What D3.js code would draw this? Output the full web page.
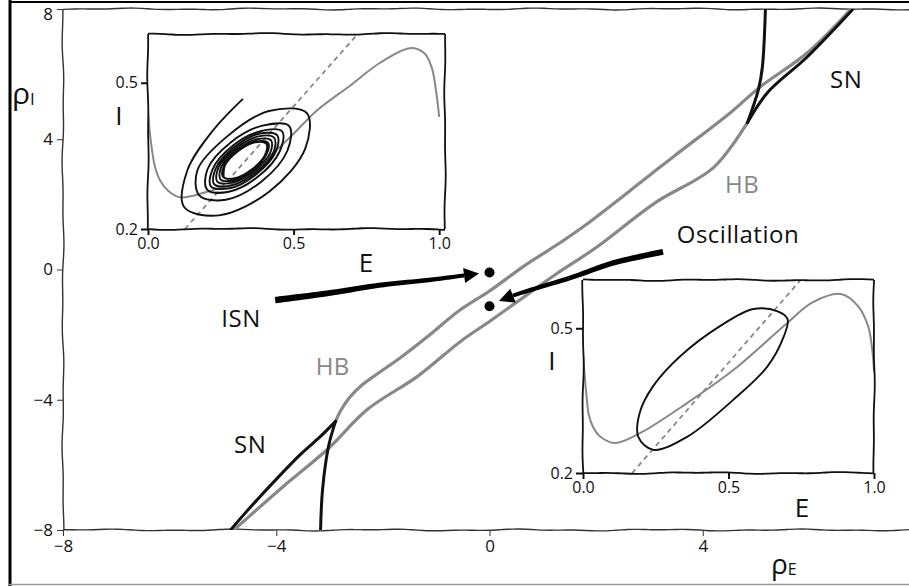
<!DOCTYPE html>
<html>
<head>
<meta charset="utf-8">
<script src="https://cdn.jsdelivr.net/npm/d3@7"></script>
<style>
  body { margin: 0; background: #fff; }
  svg { display: block; }
  text { font-family: 'Open Sans', 'DejaVu Sans', sans-serif; fill: #111; }
</style>
</head>
<body>
<svg id="chart" width="909" height="586"></svg>
<script>
// ---------- bifurcation diagram (rho_E, rho_I) ----------
const yTicks = [-8, -4, 0, 4, 8];
const xTicks = [-8, -4, 0, 4];

// Hopf bifurcation branches
const hbUpper = [[-2.888,-4.663],[-2.785,-4.315],[-2.617,-3.916],[-2.392,-3.547],[-2.054,-3.147],
  [-1.679,-2.718],[-1.172,-2.073],[-0.553,-1.244],[0.0,-0.66],[0.66,0.12],[1.331,0.828],[1.763,1.319],
  [2.831,2.669],[3.450,3.466],[4.519,4.816],[5.082,5.613],[5.963,6.656],[6.769,7.975]];
const hbLower = [[-4.800,-8.006],[-3.863,-6.656],[-3.038,-5.521],[-2.288,-4.294],[-1.350,-3.282],
  [-0.544,-2.209],[0.0,-1.595],[0.581,-0.920],[1.238,-0.153],[1.988,0.66],[3.113,2.055],
  [4.200,3.129],[4.838,4.509]];

// saddle-node branches (each pair meets at a cusp)
const snLowerOuter = [[-4.857,-8.0],[-4.495,-7.32],[-4.064,-6.553],[-3.555,-5.693],[-3.18,-5.14],[-2.888,-4.663]];
const snLowerInner = [[-3.169,-8.0],[-3.131,-6.75],[-3.019,-5.43],[-2.888,-4.663]];
const snUpperOuter = [[6.807,7.975],[5.963,6.534],[5.213,5.43],[4.838,4.509]];
const snUpperInner = [[5.175,7.975],[5.119,6.227],[5.044,5.521],[4.838,4.509]];

// parameter points used for the two phase-plane insets
const markedPoints = [[0, -0.09], [0, -1.13]];

// annotation arrows (tail ... tip)
const isnArrow = [[-4.02,-0.94],[-2.99,-0.72],[-2.05,-0.48],[-1.12,-0.32],[-0.197,-0.12]];
const oscArrow = [[3.255,0.54],[2.317,0.20],[1.566,-0.23],[0.947,-0.54],[0.478,-0.78],[0.178,-0.97]];

const labels = [
  { text: "ISN",         pos: [-4.66,-1.77], color: "#111" },
  { text: "Oscillation", pos: [ 4.66, 0.81], color: "#111" },
  { text: "SN",          pos: [ 6.69, 5.57], color: "#111" },
  { text: "SN",          pos: [-4.49,-5.63], color: "#111" },
  { text: "HB",          pos: [ 4.74, 2.35], color: "#888" },
  { text: "HB",          pos: [-2.94,-3.24], color: "#888" }
];

// ---------- inset phase planes (E, I) ----------
const insetXTicks = [0.0, 0.5, 1.0];
const insetYTicks = [0.2, 0.5];

// inset 1: damped spiral into the fixed point
const inset1ENullcline = [[0,0.443],[0.006,0.40],[0.014,0.361],[0.025,0.325],[0.041,0.30],[0.07,0.278],
  [0.11,0.265],[0.2,0.276],[0.316,0.30],[0.477,0.382],[0.58,0.443],[0.694,0.494],[0.797,0.541],
  [0.90,0.571],[0.95,0.56],[0.975,0.53],[0.99,0.48],[1.0,0.43]];
const inset1INullcline = [[0.127,0.2],[0.72,0.6]];
const inset1Trajectory = [
  [0.326,0.467],[0.223,0.402],[0.135,0.320],[0.124,0.245],[0.244,0.228],[0.417,0.277],[0.540,0.365],[0.545,0.438],[0.415,0.442],
  [0.270,0.389],[0.170,0.321],[0.176,0.269],[0.267,0.260],[0.390,0.2975],[0.479,0.361],[0.485,0.411],[0.393,0.412],
  [0.285,0.378],[0.204,0.322],[0.203,0.281],[0.274,0.276],[0.377,0.307],[0.453,0.360],[0.461,0.400],[0.389,0.401],
  [0.293,0.372],[0.222,0.323],[0.216,0.2875],[0.279,0.2835],[0.371,0.312],[0.439,0.3586],[0.444,0.392],[0.385,0.396],
  [0.297,0.368],[0.2325,0.324],[0.227,0.292],[0.284,0.289],[0.3665,0.315],[0.430,0.356],[0.4335,0.387],[0.380,0.390],
  [0.3016,0.365],[0.242,0.326],[0.238,0.297],[0.2885,0.295],[0.362,0.318],[0.419,0.355],[0.4226,0.382],[0.375,0.384],
  [0.306,0.362],[0.252,0.328],[0.249,0.302],[0.294,0.300],[0.359,0.321],[0.408,0.354],[0.412,0.377],[0.369,0.379],
  [0.308,0.360],[0.2615,0.330],[0.258,0.307],[0.298,0.304],[0.357,0.3225],[0.402,0.352],[0.406,0.375],[0.368,0.378],
  [0.309,0.3595],[0.264,0.330],[0.260,0.307]];

// inset 2: limit cycle
const inset2ENullcline = [[0,0.45],[0.006,0.40],[0.012,0.36],[0.02,0.32],[0.035,0.295],[0.06,0.275],
  [0.11,0.262],[0.197,0.283],[0.36,0.346],[0.52,0.415],[0.70,0.51],[0.79,0.554],[0.886,0.571],
  [0.945,0.546],[0.98,0.504],[0.995,0.45],[1.0,0.41]];
const inset2INullcline = [[0.169,0.2],[0.748,0.6]];
const inset2Cycle = [[0.19,0.275],[0.241,0.248],[0.358,0.275],[0.517,0.352],[0.634,0.421],[0.69,0.483],
  [0.703,0.519],[0.669,0.535],[0.586,0.54],[0.472,0.505],[0.334,0.442],[0.241,0.38],[0.195,0.325]];

// ---------- drawing ----------
const svg = d3.select("#chart");
const x = d3.scaleLinear().domain([-8, 8]).range([63, 916]);
const y = d3.scaleLinear().domain([-8, 8]).range([530, 9]);

// hand-drawn looking straight segment
function wobble(x1, y1, x2, y2, amp, seed) {
  const len = Math.hypot(x2 - x1, y2 - y1);
  const n = Math.max(2, Math.round(len / 6));
  const nx = -(y2 - y1) / len, ny = (x2 - x1) / len;
  const pts = d3.range(n + 1).map(i => {
    const t = i / n, s = t * len;
    const o = amp * (0.6 * Math.sin(s * 0.045 + seed) + 0.4 * Math.sin(s * 0.11 + seed * 1.7));
    return [x1 + (x2 - x1) * t + nx * o, y1 + (y2 - y1) * t + ny * o];
  });
  return d3.line().curve(d3.curveBasis)(pts);
}

// outer frame
svg.append("line").attr("x1", 10).attr("x2", 10).attr("y1", 0).attr("y2", 586)
  .attr("stroke", "#000").attr("stroke-width", 3);
svg.append("line").attr("x1", 9).attr("x2", 909).attr("y1", 2).attr("y2", 2)
  .attr("stroke", "#000").attr("stroke-width", 2);
svg.append("line").attr("x1", 9).attr("x2", 909).attr("y1", 584.5).attr("y2", 584.5)
  .attr("stroke", "#999").attr("stroke-width", 1.5);

// main spines
const spineStyle = s => s.attr("fill", "none").attr("stroke", "#333").attr("stroke-width", 1.4);
svg.append("path").attr("d", wobble(x(-8), y(-8), x(-8), y(8), 1.0, 1)).call(spineStyle);
svg.append("path").attr("d", wobble(x(-8), y(8), x(8), y(8), 1.0, 2)).call(spineStyle);
svg.append("path").attr("d", wobble(x(-8), y(-8), x(8), y(-8), 1.0, 3)).call(spineStyle);

// main axes
const gy = svg.append("g").attr("transform", `translate(${x(-8)},0)`)
  .call(d3.axisLeft(y).tickValues(yTicks).tickFormat(d3.format("d")).tickSize(6).tickPadding(4));
const gx = svg.append("g").attr("transform", `translate(0,${y(-8)})`)
  .call(d3.axisBottom(x).tickValues(xTicks).tickFormat(d3.format("d")).tickSize(6).tickPadding(4));
[gx, gy].forEach(g => {
  g.select(".domain").remove();
  g.selectAll(".tick line").attr("stroke", "#333").attr("stroke-width", 1);
  g.selectAll(".tick text").attr("font-size", 17).attr("fill", "#111")
    .style("font-family", "'Open Sans', sans-serif");
});
gy.selectAll(".tick text").filter(d => d === 8).attr("dy", "0.62em");

// axis titles
const rhoI = svg.append("text").attr("x", 12).attr("y", 104).attr("font-size", 30);
rhoI.append("tspan").text("ρ");
rhoI.append("tspan").attr("font-size", 17).attr("dy", 1).text("I");
const rhoE = svg.append("text").attr("x", 771).attr("y", 574).attr("font-size", 28);
rhoE.append("tspan").text("ρ");
rhoE.append("tspan").attr("font-size", 16).attr("dy", 1).text("E");

// clip for the main plotting area
svg.append("clipPath").attr("id", "mainClip").append("rect")
  .attr("x", x(-8)).attr("y", y(8)).attr("width", x(8) - x(-8)).attr("height", y(-8) - y(8));
const plot = svg.append("g").attr("clip-path", "url(#mainClip)");

const mainLine = d3.line().x(d => x(d[0])).y(d => y(d[1])).curve(d3.curveCatmullRom.alpha(0.5));
[hbUpper, hbLower].forEach(d => plot.append("path").attr("d", mainLine(d))
  .attr("fill", "none").attr("stroke", "#888").attr("stroke-width", 3.2).attr("stroke-linecap", "round"));
[snLowerOuter, snLowerInner, snUpperOuter, snUpperInner].forEach(d => plot.append("path").attr("d", mainLine(d))
  .attr("fill", "none").attr("stroke", "#111").attr("stroke-width", 3).attr("stroke-linecap", "round"));

// tapered annotation arrow
function arrow(data, w0, w1, headLen, headHalf) {
  const pts = data.map(d => [x(d[0]), y(d[1])]);
  const tmp = svg.append("path").attr("d", d3.line().curve(d3.curveCatmullRom)(pts)).attr("fill", "none");
  const node = tmp.node(), L = node.getTotalLength(), shaft = L - headLen;
  const n = 40, left = [], right = [];
  for (let i = 0; i <= n; i++) {
    const s = shaft * i / n;
    const p = node.getPointAtLength(s);
    const a = node.getPointAtLength(Math.max(0, s - 1)), b = node.getPointAtLength(Math.min(L, s + 1));
    const tl = Math.hypot(b.x - a.x, b.y - a.y) || 1;
    const nx = -(b.y - a.y) / tl, ny = (b.x - a.x) / tl;
    const w = (w0 + (w1 - w0) * i / n) / 2;
    left.push([p.x + nx * w, p.y + ny * w]);
    right.push([p.x - nx * w, p.y - ny * w]);
  }
  const base = node.getPointAtLength(shaft), tip = node.getPointAtLength(L);
  const dl = Math.hypot(tip.x - base.x, tip.y - base.y);
  const hx = -(tip.y - base.y) / dl, hy = (tip.x - base.x) / dl;
  tmp.remove();
  svg.append("path").attr("d", d3.line()(left.concat(right.reverse())) + "Z").attr("fill", "#000");
  svg.append("path").attr("d", d3.line()([[base.x + hx * headHalf, base.y + hy * headHalf], [tip.x, tip.y],
      [base.x - hx * headHalf, base.y - hy * headHalf]]) + "Z").attr("fill", "#000");
}
arrow(isnArrow, 6.5, 4, 15, 7.5);
arrow(oscArrow, 6, 4, 15, 7.5);

svg.selectAll("circle.pt").data(markedPoints).join("circle").attr("class", "pt")
  .attr("cx", d => x(d[0])).attr("cy", d => y(d[1])).attr("r", 5).attr("fill", "#000");

svg.selectAll("text.lbl").data(labels).join("text").attr("class", "lbl")
  .attr("x", d => x(d.pos[0])).attr("y", d => y(d.pos[1])).attr("text-anchor", "middle")
  .attr("font-size", 24).attr("letter-spacing", 0.5).style("fill", d => d.color).text(d => d.text);

// ---------- insets ----------
function inset(cfg) {
  const ix = d3.scaleLinear().domain(cfg.xDomain).range(cfg.xRange);
  const iy = d3.scaleLinear().domain([0.2, 0.6]).range(cfg.yRange);
  const [x0, x1] = cfg.xRange, [yb, yt] = cfg.yRange;
  const g = svg.append("g");
  g.append("rect").attr("x", x0).attr("y", yt).attr("width", x1 - x0).attr("height", yb - yt).attr("fill", "#fff");
  const clipId = cfg.id + "Clip";
  g.append("clipPath").attr("id", clipId).append("rect")
    .attr("x", x0).attr("y", yt).attr("width", x1 - x0).attr("height", yb - yt);
  const inner = g.append("g").attr("clip-path", `url(#${clipId})`);
  const line = d3.line().x(d => ix(d[0])).y(d => iy(d[1]));
  inner.append("path").attr("d", line.curve(d3.curveLinear)(cfg.iNull)).attr("fill", "none")
    .attr("stroke", "#888").attr("stroke-width", 1.8).attr("stroke-dasharray", "5,4");
  inner.append("path").attr("d", line.curve(d3.curveCatmullRom)(cfg.eNull)).attr("fill", "none")
    .attr("stroke", "#888").attr("stroke-width", 2);
  inner.append("path").attr("d", line.curve(cfg.closed ? d3.curveCatmullRomClosed : d3.curveCatmullRom)(cfg.traj))
    .attr("fill", "none").attr("stroke", "#111").attr("stroke-width", 1.9);
  // box
  const box = s => s.attr("fill", "none").attr("stroke", "#111").attr("stroke-width", 1.8);
  g.append("path").attr("d", wobble(x0, yb, x0, yt, 0.8, cfg.seed)).call(box);
  g.append("path").attr("d", wobble(x1, yb, x1, yt, 0.8, cfg.seed + 1)).call(box);
  g.append("path").attr("d", wobble(x0, yt, x1, yt, 1.0, cfg.seed + 2)).call(box);
  g.append("path").attr("d", wobble(x0, yb, x1, yb, 1.0, cfg.seed + 3)).call(box);
  const ax = g.append("g").attr("transform", `translate(0,${yb})`)
    .call(d3.axisBottom(ix).tickValues(insetXTicks).tickFormat(d3.format(".1f")).tickSize(6).tickPadding(3));
  const ay = g.append("g").attr("transform", `translate(${x0},0)`)
    .call(d3.axisLeft(iy).tickValues(insetYTicks).tickFormat(d3.format(".1f")).tickSize(7).tickPadding(3));
  [ax, ay].forEach(a => {
    a.select(".domain").remove();
    a.selectAll(".tick line").attr("stroke", "#111").attr("stroke-width", 2);
    a.selectAll(".tick text").attr("font-size", 16).attr("fill", "#111")
      .style("font-family", "'Open Sans', sans-serif");
  });
  g.append("text").attr("x", cfg.eLabel[0]).attr("y", cfg.eLabel[1]).attr("text-anchor", "middle")
    .attr("font-size", 26).text("E");
  g.append("text").attr("x", cfg.iLabel[0]).attr("y", cfg.iLabel[1]).attr("text-anchor", "middle")
    .attr("font-size", 26).text("I");
}

inset({ id: "ins1", xDomain: [0, 1.02], xRange: [148, 445], yRange: [229, 34], seed: 4,
  eNull: inset1ENullcline, iNull: inset1INullcline, traj: inset1Trajectory, closed: false,
  eLabel: [366, 272], iLabel: [119, 125] });
inset({ id: "ins2", xDomain: [0, 1.0], xRange: [583, 874], yRange: [473, 280], seed: 9,
  eNull: inset2ENullcline, iNull: inset2INullcline, traj: inset2Cycle, closed: true,
  eLabel: [802, 517], iLabel: [552, 370] });
</script>
</body>
</html>
